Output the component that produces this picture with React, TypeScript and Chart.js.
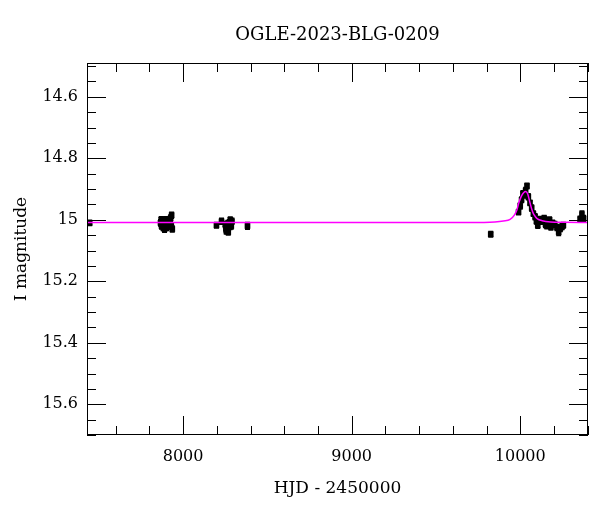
import React, { useEffect, useRef } from "react";
import { Chart, registerables } from "chart.js";

Chart.register(...registerables);

const TITLE = "OGLE-2023-BLG-0209";
const X_TITLE = "HJD - 2450000";
const Y_TITLE = "I magnitude";

const xLabelTicks = [8000, 9000, 10000];
const yLabelTicks = [14.6, 14.8, 15, 15.2, 15.4, 15.6];

const X_MIN = 7430;
const X_MAX = 10402;
const Y_MIN = 14.49;
const Y_MAX = 15.7;

// observations (HJD - 2450000, I mag, error)
const obsHJD = [
  7446,
  7866, 7870, 7872, 7878, 7882, 7884, 7890, 7894, 7896, 7902, 7905, 7908, 7914, 7918, 7920, 7926, 7930, 7932, 7936,
  8198, 8228, 8250, 8254, 8256, 8262, 8266, 8268, 8274, 8278, 8280, 8286, 8290,
  8382,
  9825,
  9990, 10000, 10008, 10016, 10024, 10032, 10040, 10048, 10058, 10068, 10078, 10088,
  10096, 10104, 10112, 10122, 10132, 10142, 10150, 10158, 10166, 10174, 10182, 10192,
  10205, 10218, 10228, 10238, 10248, 10256,
  10355, 10366, 10376,
];
const obsMag = [
  15.01,
  15.01, 15.0, 15.02, 15.005, 15.025, 15.015, 15.03, 15.012, 15.0, 15.025, 15.018, 15.01, 15.02, 15.005, 15.0, 14.995, 15.02, 14.985, 15.03,
  15.018, 15.005, 15.015, 15.028, 15.035, 15.025, 15.012, 15.04, 15.01, 15.022, 15.0, 15.02, 15.005,
  15.02,
  15.047,
  14.975, 14.955, 14.935, 14.915, 14.92, 14.905, 14.89, 14.925, 14.945, 14.962, 14.98, 14.99,
  15.005, 15.018, 14.998, 15.0, 15.005, 14.995, 15.015, 15.02, 15.01, 15.0, 15.023, 15.01,
  15.015, 15.025, 15.04, 15.028, 15.022, 15.018,
  14.998, 14.982, 14.996,
];
const obsErr = [
  0.008,
  0.009, 0.009, 0.009, 0.008, 0.009, 0.009, 0.01, 0.009, 0.009, 0.009, 0.009, 0.008, 0.009, 0.009, 0.009, 0.01, 0.009, 0.009, 0.009,
  0.008, 0.009, 0.009, 0.009, 0.01, 0.009, 0.009, 0.009, 0.009, 0.009, 0.008, 0.009, 0.009,
  0.01,
  0.008,
  0.008, 0.009, 0.008, 0.009, 0.008, 0.009, 0.008, 0.009, 0.008, 0.009, 0.008, 0.009,
  0.008, 0.009, 0.008, 0.009, 0.009, 0.008, 0.009, 0.008, 0.009, 0.008, 0.009, 0.008,
  0.009, 0.009, 0.01, 0.009, 0.009, 0.008,
  0.009, 0.01, 0.009,
];

// microlensing model curve
const modelHJD = [
  7430, 9700, 9850, 9900, 9940, 9965, 9980, 9990, 10000, 10010, 10020, 10032, 10044,
  10058, 10068, 10078, 10090, 10100, 10130, 10180, 10260, 10402,
];
const modelMag = [
  15.009, 15.009, 15.007, 15.004, 14.999, 14.985, 14.968, 14.948, 14.932, 14.92, 14.912,
  14.908, 14.915, 14.945, 14.965, 14.98, 14.99, 14.996, 15.003, 15.007, 15.008, 15.009,
];

const FONT = "'DejaVu Serif', 'Liberation Serif', serif";

const frameAndTicks = {
  id: "frameAndTicks",
  beforeDatasetsDraw(chart: any) {
    const { ctx, chartArea, scales } = chart;
    const { left, right, top, bottom } = chartArea;
    const xs = scales.x;
    const ys = scales.y;
    ctx.save();
    ctx.beginPath();
    ctx.rect(left, top, right - left, bottom - top);
    ctx.clip();
    ctx.strokeStyle = "#000";
    ctx.lineWidth = 2;
    for (let i = 0; i < obsHJD.length; i++) {
      const px = xs.getPixelForValue(obsHJD[i]);
      const p1 = ys.getPixelForValue(obsMag[i] - obsErr[i]);
      const p2 = ys.getPixelForValue(obsMag[i] + obsErr[i]);
      ctx.beginPath();
      ctx.moveTo(px, p1);
      ctx.lineTo(px, p2);
      ctx.moveTo(px - 2.5, p1);
      ctx.lineTo(px + 2.5, p1);
      ctx.moveTo(px - 2.5, p2);
      ctx.lineTo(px + 2.5, p2);
      ctx.stroke();
    }
    ctx.restore();
  },
  afterDraw(chart: any) {
    const { ctx, chartArea, scales } = chart;
    const { left, right, top, bottom } = chartArea;
    const xs = scales.x;
    const ys = scales.y;
    ctx.save();
    ctx.strokeStyle = "#000";
    ctx.lineWidth = 1;
    ctx.strokeRect(left + 0.5, top + 0.5, right - left - 1, bottom - top - 1);
    const MAJ = 19;
    const MIN = 9;
    ctx.beginPath();
    for (let v = 7600; v <= X_MAX; v += 200) {
      const px = Math.round(xs.getPixelForValue(v)) + 0.5;
      const len = v % 1000 === 0 ? MAJ : MIN;
      ctx.moveTo(px, bottom);
      ctx.lineTo(px, bottom - len);
      ctx.moveTo(px, top);
      ctx.lineTo(px, top + len);
    }
    for (let k = 290; k <= 314; k++) {
      const v = k * 0.05;
      if (v < Y_MIN || v > Y_MAX + 1e-9) continue;
      const py = Math.round(ys.getPixelForValue(v)) + 0.5;
      const len = k % 4 === 0 ? MAJ : MIN;
      ctx.moveTo(left, py);
      ctx.lineTo(left + len, py);
      ctx.moveTo(right, py);
      ctx.lineTo(right - len, py);
    }
    ctx.stroke();
    ctx.fillStyle = "#000";
    ctx.font = `18px ${FONT}`;
    ctx.textAlign = "center";
    ctx.textBaseline = "middle";
    ctx.fillText(TITLE, (left + right) / 2, 35);
    ctx.restore();
  },
};

export default function App() {
  const ref = useRef<HTMLCanvasElement | null>(null);
  useEffect(() => {
    document.body.style.margin = "0";
    const canvas = ref.current;
    if (!canvas) return;
    const chart = new Chart(canvas, {
      type: "scatter",
      data: {
        datasets: [
          {
            type: "line",
            data: modelHJD.map((x, i) => ({ x, y: modelMag[i] })),
            borderColor: "#ff00ff",
            borderWidth: 1.5,
            pointRadius: 0,
            fill: false,
            tension: 0.4,
            cubicInterpolationMode: "monotone",
          } as any,
          {
            data: obsHJD.map((x, i) => ({ x, y: obsMag[i] })),
            pointStyle: "rect",
            pointRadius: 4,
            backgroundColor: "#000",
            borderColor: "#000",
            borderWidth: 0,
          },
        ],
      },
      options: {
        animation: false,
        responsive: false,
        maintainAspectRatio: false,
        events: [],
        layout: { padding: { top: 63, right: 12, left: 0, bottom: 0 } },
        plugins: {
          legend: { display: false },
          tooltip: { enabled: false },
          title: { display: false },
        },
        scales: {
          x: {
            type: "linear",
            position: "bottom",
            min: X_MIN,
            max: X_MAX,
            grid: { display: false, drawTicks: false },
            border: { display: false },
            afterBuildTicks: (s: any) => {
              s.ticks = xLabelTicks.map((v) => ({ value: v }));
            },
            afterFit: (s: any) => {
              s.height = 77;
            },
            ticks: {
              color: "#000",
              font: { family: FONT, size: 16 },
              padding: 12,
              maxRotation: 0,
              autoSkip: false,
              callback: (v: any) => String(v),
            },
            title: {
              display: true,
              text: X_TITLE,
              color: "#000",
              font: { family: FONT, size: 17 },
              padding: { top: 0, bottom: 13 },
            },
          },
          y: {
            type: "linear",
            position: "left",
            reverse: true,
            min: Y_MIN,
            max: Y_MAX,
            grid: { display: false, drawTicks: false },
            border: { display: false },
            afterBuildTicks: (s: any) => {
              s.ticks = yLabelTicks.map((v) => ({ value: v }));
            },
            afterFit: (s: any) => {
              s.width = 87;
            },
            ticks: {
              color: "#000",
              font: { family: FONT, size: 16 },
              padding: 9,
              autoSkip: false,
              callback: (v: any) => String(v),
            },
            title: {
              display: true,
              text: Y_TITLE,
              color: "#000",
              font: { family: FONT, size: 17 },
              padding: { top: 11, bottom: 0 },
            },
          },
        },
      },
      plugins: [frameAndTicks],
    });
    return () => chart.destroy();
  }, []);
  return (
    <div style={{ width: 600, height: 512 }}>
      <canvas ref={ref} width={600} height={512} style={{ display: "block" }} />
    </div>
  );
}
